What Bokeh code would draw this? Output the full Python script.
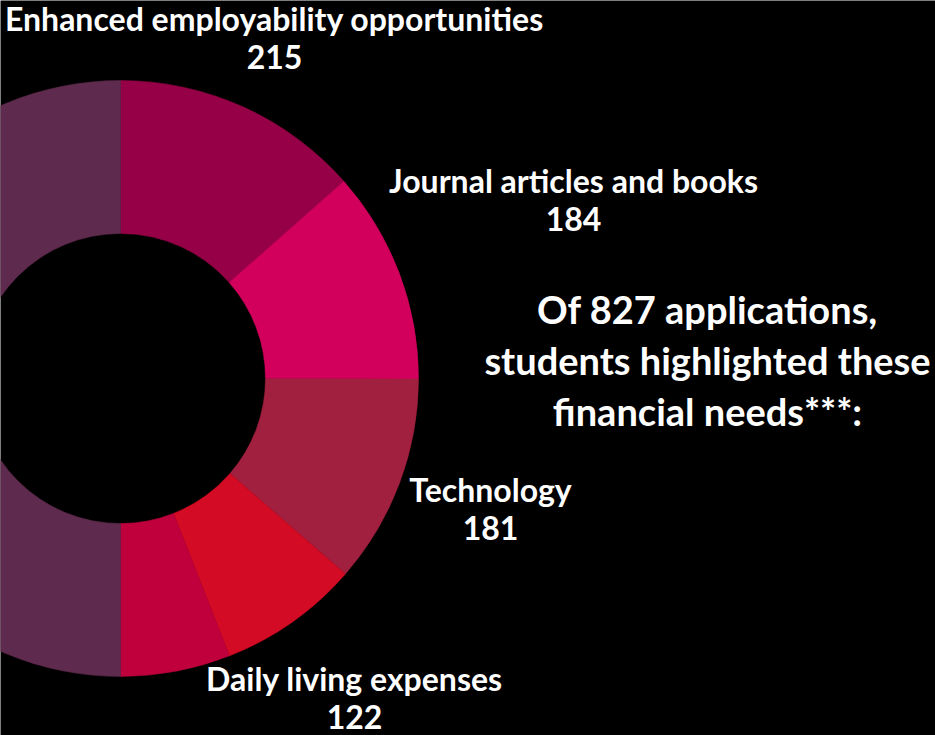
import numpy as np
from bokeh.plotting import figure
from bokeh.models import Range1d, ColumnDataSource
from bokeh.core.properties import value
from bokeh.embed import file_html
from bokeh.resources import INLINE

# ---- data ----
categories = [
    "Enhanced employability opportunities",
    "Journal articles and books",
    "Technology",
    "Daily living expenses",
    "Other need (label off-canvas)",
    "Other needs (labels off-canvas)",
]
counts = [215, 184, 181, 122, 95, 797]
slice_colors = ["#960047", "#D2005C", "#A2203F", "#D40B24", "#C0003D", "#5E2A4D"]
n_labelled = 4
title_lines = ["Of 827 applications,", "students highlighted these", "financial needs***:"]

# ---- layout (page pixel coordinates; y measured downward, plotted as -y) ----
W, H = 935, 735
cx, cy = 120, 378
r_out, r_in = 298, 145
label_x = [274, 573, 490, 354]
label_base = [18, 180, 489, 678]
label_gap = 38
title_x = 707
title_base = [308, 359, 410]

p = figure(width=W, height=H, output_backend="svg", toolbar_location=None,
           x_range=Range1d(0, W), y_range=Range1d(-H, 0),
           min_border=0, background_fill_color="black", border_fill_color="black",
           outline_line_color=None)
p.axis.visible = False
p.grid.visible = False

vals = np.array(counts, dtype=float)
frac = vals / vals.sum()
cum = np.concatenate([[0.0], np.cumsum(frac)])
start = np.pi / 2 - cum[:-1] * 2 * np.pi
end = np.pi / 2 - cum[1:] * 2 * np.pi

src = ColumnDataSource(dict(x=[cx] * len(counts), y=[-cy] * len(counts),
                            start=start, end=end, color=slice_colors,
                            cat=categories, n=counts))
p.annular_wedge(x="x", y="y", inner_radius=r_in, outer_radius=r_out,
                start_angle="start", end_angle="end", direction="clock",
                fill_color="color", line_color="color", line_width=0.5, source=src)

lab_src = ColumnDataSource(dict(
    x=label_x + label_x,
    y=[-b for b in label_base] + [-(b + label_gap) for b in label_base],
    t=categories[:n_labelled] + [str(c) for c in counts[:n_labelled]],
))
p.text(x="x", y="y", text="t", source=lab_src, text_align="center",
       text_baseline="alphabetic", text_font=value("Lato"), text_font_style="bold",
       text_font_size="32px", text_color="white")

tsrc = ColumnDataSource(dict(x=[title_x] * 3, y=[-b for b in title_base], t=title_lines))
p.text(x="x", y="y", text="t", source=tsrc, text_align="center",
       text_baseline="alphabetic", text_font=value("Lato"), text_font_style="bold",
       text_font_size="38px", text_color="white")

open("out.html", "w").write(file_html(p, INLINE))
